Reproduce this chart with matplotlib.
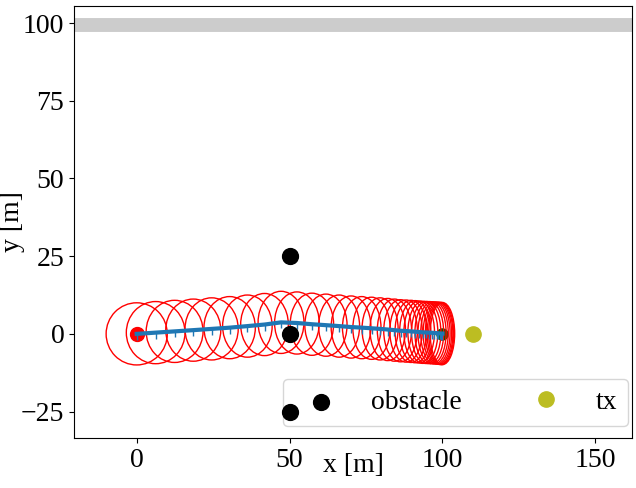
import matplotlib
matplotlib.use("Agg")
import matplotlib.pyplot as plt
from matplotlib.patches import Ellipse

plt.rcParams['font.family'] = 'serif'
plt.rcParams['font.serif'] = ['Liberation Serif', 'DejaVu Serif']
plt.rcParams['font.size'] = 20

# trajectory estimate (x, y) and uncertainty ellipse half widths / heights
traj_x = [0, 6.2, 12.4, 18.5, 24.5, 30.4, 36.2, 41.8, 47.2, 52.4, 57.3, 61.9,
          66.2, 70.1, 73.6, 76.8, 79.6, 82.1, 84.3, 86.3, 88.1, 89.7, 91.1,
          92.4, 93.6, 94.7, 95.7, 96.6, 97.4, 98.1, 98.7, 99.2, 99.6, 100.0]
traj_y = [0, 0.4, 0.8, 1.2, 1.6, 2.0, 2.5, 3.0, 3.7, 3.5, 3.1, 2.8,
          2.5, 2.2, 2.0, 1.8, 1.6, 1.4, 1.2, 1.0, 0.9, 0.8, 0.7,
          0.6, 0.5, 0.45, 0.4, 0.35, 0.3, 0.25, 0.2, 0.15, 0.1, 0.1]
half_w = [10.0, 9.6, 9.3, 9.0, 8.7, 8.4, 8.1, 7.8, 7.5, 7.3, 7.1, 6.9,
          6.7, 6.5, 6.3, 6.1, 5.9, 5.8, 5.6, 5.5, 5.3, 5.2, 5.1,
          5.0, 4.9, 4.8, 4.7, 4.6, 4.5, 4.4, 4.3, 4.2, 4.1, 4.0]
half_h = 10.0

obstacle_x = [50, 50, 50]
obstacle_y = [25, 0, -25]
start = (0, 0)
goal = (100, 0)
tx = (110, 0)
wall_y = 99.3

fig = plt.figure(figsize=(6.36, 4.88), dpi=100)
ax = fig.add_axes([0.1164, 0.1025, 0.8773, 0.8852])

ax.axhline(wall_y, color='0.8', lw=10, zorder=1)

ax.plot(start[0], start[1], 'o', color='red', ms=10, zorder=2)
for x, y, w in zip(traj_x, traj_y, half_w):
    ax.add_patch(Ellipse((x, y), 2 * w, 2 * half_h, fill=False,
                         edgecolor='red', lw=1, zorder=3))

ax.plot(goal[0], goal[1], 'o', color='darkgreen', ms=8, zorder=2)
ax.plot(traj_x, traj_y, color='tab:blue', lw=3, marker=3, ms=4, mew=1,
        zorder=4)
# obstacles drawn above the legend box
ax.scatter(obstacle_x, obstacle_y, s=130, color='black', zorder=6,
           label='obstacle')
ax.plot(tx[0], tx[1], 'o', color='tab:olive', ms=11, ls='none', zorder=5,
        label='tx')

ax.set_xlim(-20.5, 162)
ax.set_ylim(-33.5, 105.5)
ax.set_xticks([0, 50, 100, 150])
ax.set_yticks([-25, 0, 25, 50, 75, 100])
ax.set_xlabel('x [m]', labelpad=-14)
ax.set_ylabel('y [m]')
ax.yaxis.set_label_coords(-0.088, 0.5)

leg = ax.legend(loc='lower right', ncol=2, bbox_to_anchor=(1.018, -0.005))
leg.set_zorder(5)

fig.savefig('out.png')
